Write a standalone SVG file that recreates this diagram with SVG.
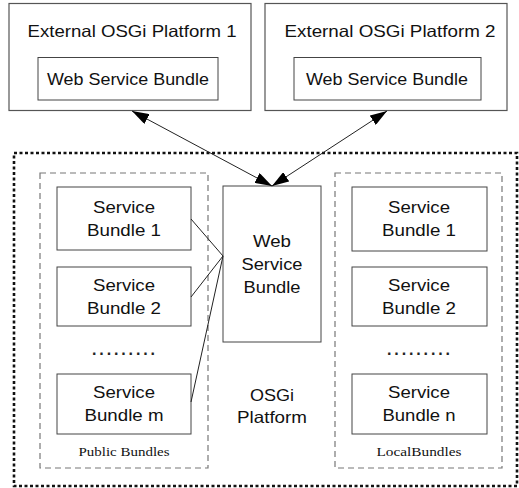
<svg xmlns="http://www.w3.org/2000/svg" width="519" height="488" viewBox="0 0 519 488">
  <defs>
    <style>
      .box { fill: #fff; stroke: #444; stroke-width: 1; }
      .ext { fill: #fff; stroke: #555; stroke-width: 1.2; }
      .group { fill: none; stroke: #777; stroke-width: 1.2; stroke-dasharray: 6 4; }
      .platform { fill: none; stroke: #111; stroke-width: 2.6; stroke-dasharray: 3 2.5; }
      .t { font-family: "Liberation Sans", Arial, sans-serif; font-size: 16.5px; fill: #111; text-anchor: middle; }
      .s { font-family: "Liberation Serif", "Times New Roman", serif; font-size: 12.5px; fill: #111; text-anchor: middle; }
      .dots { font-family: "Liberation Sans", Arial, sans-serif; font-size: 16px; font-weight: bold; fill: #222; }
      .link { stroke: #222; stroke-width: 1; fill: none; }
    </style>
    <marker id="arrow" viewBox="0 0 17 11" refX="17" refY="5.5" markerWidth="17" markerHeight="11" markerUnits="userSpaceOnUse" orient="auto-start-reverse">
      <path d="M0,0 L17,5.5 L0,11 Z" fill="#000"/>
    </marker>
  </defs>

  <!-- external platforms -->
  <g id="ext1">
    <rect class="ext" x="9" y="3.5" width="242" height="107"/>
    <text class="t" x="132" y="36.5" textLength="209" lengthAdjust="spacingAndGlyphs">External OSGi Platform 1</text>
    <g id="ext1-ws">
      <rect class="box" x="38" y="57.5" width="180" height="42.5"/>
      <text class="t" x="128" y="85" textLength="162" lengthAdjust="spacingAndGlyphs">Web Service Bundle</text>
    </g>
  </g>
  <g id="ext2">
    <rect class="ext" x="265" y="3.5" width="242" height="107"/>
    <text class="t" x="390" y="36.5" textLength="211" lengthAdjust="spacingAndGlyphs">External OSGi Platform 2</text>
    <g id="ext2-ws">
      <rect class="box" x="294" y="57.5" width="187" height="42.5"/>
      <text class="t" x="387" y="85" textLength="162" lengthAdjust="spacingAndGlyphs">Web Service Bundle</text>
    </g>
  </g>

  <!-- local OSGi platform frame -->
  <g id="platform">
    <rect class="platform" x="14" y="153" width="503" height="333"/>
    <text class="t" x="272" y="401" textLength="44" lengthAdjust="spacingAndGlyphs">OSGi</text>
    <text class="t" x="272" y="423" textLength="70" lengthAdjust="spacingAndGlyphs">Platform</text>
  </g>

  <!-- public bundles group -->
  <g id="public-bundles">
    <rect class="group" x="40" y="173" width="168" height="295"/>
    <text class="s" x="124" y="456" textLength="91" lengthAdjust="spacingAndGlyphs">Public Bundles</text>
    <text class="dots" x="92" y="355" textLength="63" lengthAdjust="spacing">.........</text>
  </g>
  <g id="pub-sb1">
    <rect class="box" x="57" y="187" width="134" height="63"/>
    <text class="t" x="124" y="213" textLength="62" lengthAdjust="spacingAndGlyphs">Service</text>
    <text class="t" x="124" y="236" textLength="74" lengthAdjust="spacingAndGlyphs">Bundle 1</text>
  </g>
  <g id="pub-sb2">
    <rect class="box" x="57" y="267" width="134" height="59"/>
    <text class="t" x="124" y="291" textLength="62" lengthAdjust="spacingAndGlyphs">Service</text>
    <text class="t" x="124" y="314" textLength="74" lengthAdjust="spacingAndGlyphs">Bundle 2</text>
  </g>
  <g id="pub-sbm">
    <rect class="box" x="57" y="374" width="134" height="60"/>
    <text class="t" x="124" y="398" textLength="62" lengthAdjust="spacingAndGlyphs">Service</text>
    <text class="t" x="124" y="421" textLength="79" lengthAdjust="spacingAndGlyphs">Bundle m</text>
  </g>

  <!-- web service bundle -->
  <g id="ws">
    <rect class="box" x="223" y="186" width="98" height="156"/>
    <text class="t" x="272" y="247" textLength="38" lengthAdjust="spacingAndGlyphs">Web</text>
    <text class="t" x="272" y="270" textLength="61" lengthAdjust="spacingAndGlyphs">Service</text>
    <text class="t" x="272" y="293" textLength="57" lengthAdjust="spacingAndGlyphs">Bundle</text>
  </g>

  <!-- local bundles group -->
  <g id="local-bundles">
    <rect class="group" x="335" y="173" width="167" height="295"/>
    <text class="s" x="419" y="456" textLength="85" lengthAdjust="spacingAndGlyphs">LocalBundles</text>
    <text class="dots" x="387" y="355" textLength="63" lengthAdjust="spacing">.........</text>
  </g>
  <g id="loc-sb1">
    <rect class="box" x="352" y="187" width="135" height="64"/>
    <text class="t" x="419" y="213" textLength="62" lengthAdjust="spacingAndGlyphs">Service</text>
    <text class="t" x="419" y="236" textLength="74" lengthAdjust="spacingAndGlyphs">Bundle 1</text>
  </g>
  <g id="loc-sb2">
    <rect class="box" x="352" y="267" width="135" height="59"/>
    <text class="t" x="419" y="291" textLength="62" lengthAdjust="spacingAndGlyphs">Service</text>
    <text class="t" x="419" y="314" textLength="74" lengthAdjust="spacingAndGlyphs">Bundle 2</text>
  </g>
  <g id="loc-sbn">
    <rect class="box" x="352" y="374" width="135" height="60"/>
    <text class="t" x="419" y="398" textLength="62" lengthAdjust="spacingAndGlyphs">Service</text>
    <text class="t" x="419" y="421" textLength="73" lengthAdjust="spacingAndGlyphs">Bundle n</text>
  </g>

  <!-- connectors -->
  <g id="connectors">
    <line class="link" x1="132" y1="111" x2="272" y2="186" marker-start="url(#arrow)" marker-end="url(#arrow)"/>
    <line class="link" x1="387" y1="111" x2="272" y2="186" marker-start="url(#arrow)" marker-end="url(#arrow)"/>
    <line class="link" x1="191" y1="219" x2="223" y2="256"/>
    <line class="link" x1="191" y1="297" x2="223" y2="256"/>
    <line class="link" x1="191" y1="402" x2="223" y2="256"/>
  </g>
</svg>
